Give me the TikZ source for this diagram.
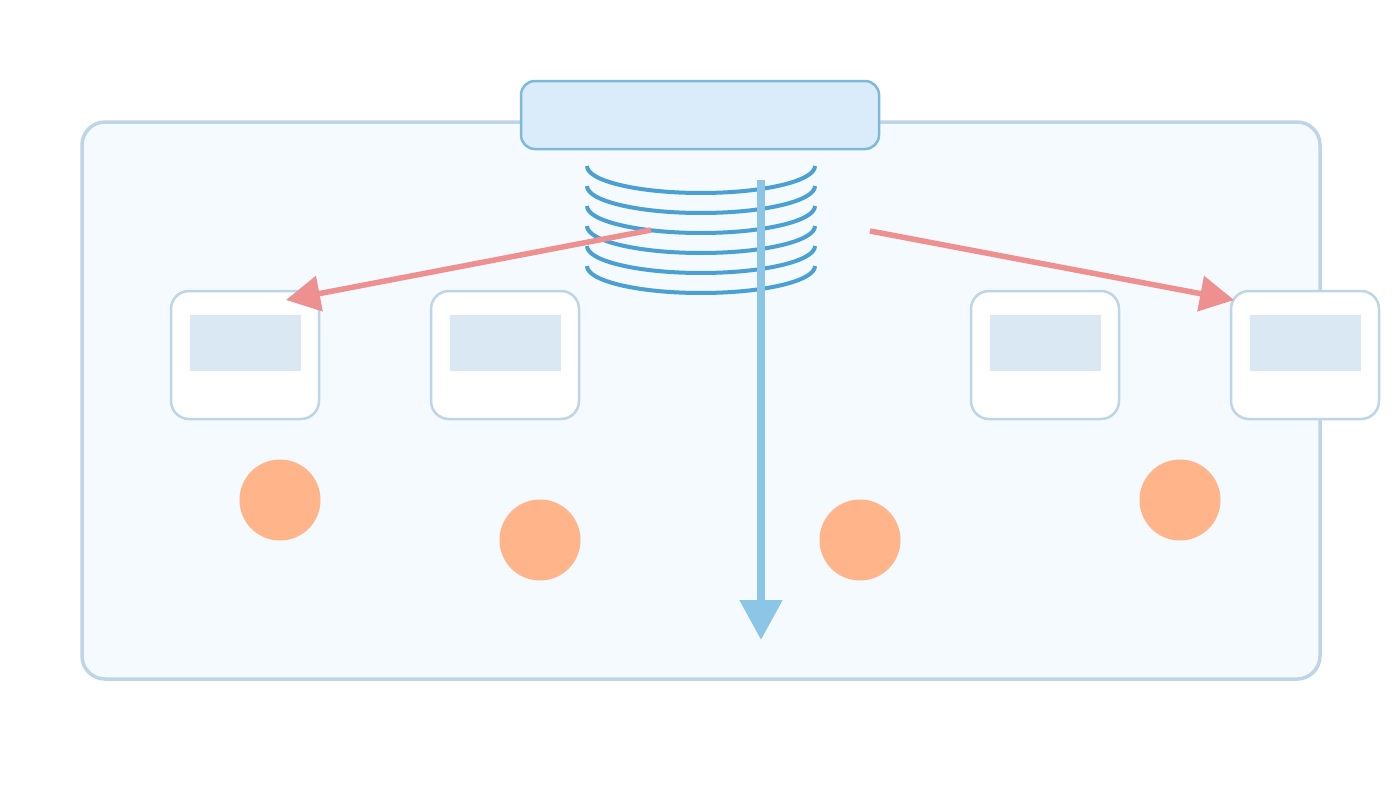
\documentclass[tikz,border=0pt]{standalone}
\usetikzlibrary{arrows.meta}
\definecolor{panelfill}{HTML}{F5FAFE}
\definecolor{panelline}{HTML}{BDD5E7}
\definecolor{barfill}{HTML}{DAECF9}
\definecolor{barline}{HTML}{7FB9DA}
\definecolor{coilc}{HTML}{4A9FD3}
\definecolor{downc}{HTML}{8CC6E7}
\definecolor{redc}{HTML}{EE9090}
\definecolor{innerc}{HTML}{DAE8F4}
\definecolor{dotc}{HTML}{FFB48A}
\tikzset{
  panel/.style={draw=panelline, fill=panelfill, line width=3.5pt, rounded corners=23pt, inner sep=0pt},
  topbar/.style={draw=barline, fill=barfill, line width=2.5pt, rounded corners=14pt, inner sep=0pt, minimum width=358pt, minimum height=68pt},
  unitbox/.style={draw=panelline, fill=white, line width=2.5pt, rounded corners=18pt, inner sep=0pt, minimum width=148pt, minimum height=128pt},
  screen/.style={fill=innerc, inner sep=0pt, minimum width=111pt, minimum height=56pt},
  dot/.style={circle, fill=dotc, inner sep=0pt, minimum size=81pt},
  coil/.style={draw=coilc, line width=4pt},
  downarrow/.style={draw=downc, line width=8pt, -{Triangle[length=40pt,width=41pt]}},
  redarrow/.style={draw=redc, line width=5.5pt, -{Triangle[length=34pt,width=35pt]}}
}
\begin{document}
\begin{tikzpicture}[x=1pt,y=-1pt]
\useasboundingbox (0,0) rectangle (1400,800);
\node[panel, minimum width=1238pt, minimum height=557pt] (panel) at (701,400.5) {};
% unit boxes
\foreach \n/\x in {u1/245, u2/505, u3/1045, u4/1305}{
  \node[unitbox] (\n) at (\x,355) {};
  \node[screen] (\n s) at ([xshift=0.5pt,yshift=12pt]\n.center) {};
}
% dots
\node[dot] (d1) at (280,500) {};
\node[dot] (d2) at (540,540) {};
\node[dot] (d3) at (860,540) {};
\node[dot] (d4) at (1180,500) {};
% top bar
\node[topbar] (bar) at (700,115) {};
% coil
\foreach \i in {0,...,5}{
  \draw[coil] (587,166+20*\i) arc[start angle=180, end angle=0, x radius=114, y radius=27];
}
% arrows
\coordinate (dstart) at (761,180);
\coordinate (dend) at (761,640);
\draw[downarrow] (dstart) -- (dend);
\coordinate (lstart) at (651,230);
\coordinate (lend) at (286,300);
\coordinate (rstart) at (870,231);
\coordinate (rend) at (1234,300);
\draw[redarrow] (lstart) -- (lend);
\draw[redarrow] (rstart) -- (rend);
\end{tikzpicture}
\end{document}
